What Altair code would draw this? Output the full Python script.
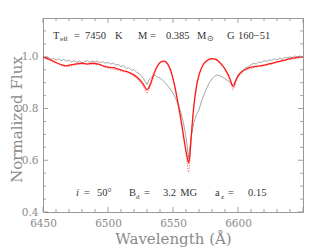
import altair as alt
import pandas as pd

# Observed spectrum (grey)
obs_wl = [6450, 6452, 6454, 6456, 6458, 6460, 6462, 6464, 6466, 6468, 6470, 6472, 6474, 6476, 6478,
          6480, 6482, 6484, 6486, 6488, 6490, 6492, 6494, 6496, 6498, 6500, 6502, 6504, 6506, 6508,
          6510, 6512, 6514, 6516, 6518, 6520, 6522, 6524, 6526, 6528, 6530, 6532, 6534, 6536, 6538,
          6540, 6542, 6544, 6546, 6548, 6550, 6552, 6554, 6556, 6558, 6560, 6562, 6564, 6566, 6568,
          6570, 6572, 6574, 6576, 6578, 6580, 6582, 6584, 6586, 6588, 6590, 6592, 6594, 6596, 6598,
          6600, 6602, 6604, 6606, 6608, 6610, 6612, 6614, 6616, 6618, 6620, 6622, 6624, 6626, 6628,
          6630, 6632, 6634, 6636, 6638, 6640, 6642, 6644, 6646, 6648]
obs_flux = [1.000, 0.995, 0.998, 0.990, 0.994, 0.988, 0.992, 0.985, 0.990, 0.983, 0.988, 0.980, 0.986, 0.978, 0.984,
            0.976, 0.982, 0.985, 0.979, 0.984, 0.980, 0.983, 0.977, 0.981, 0.975, 0.978, 0.972, 0.976, 0.968, 0.971,
            0.962, 0.966, 0.955, 0.958, 0.948, 0.950, 0.940, 0.935, 0.925, 0.910, 0.893, 0.915, 0.925, 0.930, 0.922,
            0.918, 0.910, 0.900, 0.888, 0.875, 0.860, 0.840, 0.815, 0.785, 0.745, 0.690, 0.610, 0.690, 0.745, 0.775,
            0.795, 0.830, 0.855, 0.880, 0.900, 0.915, 0.925, 0.930, 0.926, 0.922, 0.915, 0.908, 0.900, 0.892, 0.905,
            0.930, 0.942, 0.950, 0.958, 0.962, 0.970, 0.975, 0.972, 0.980, 0.978, 0.985, 0.982, 0.988, 0.986, 0.992,
            0.988, 0.995, 0.990, 0.998, 0.995, 1.000, 0.997, 1.003, 1.000, 1.005]

# Model spectrum (red line)
mod_wl = [6450, 6455, 6460, 6465, 6468, 6472, 6476, 6480, 6484, 6488, 6492, 6496, 6500, 6504, 6508,
          6512, 6516, 6520, 6524, 6527, 6529, 6530, 6531, 6533, 6535, 6537, 6539, 6541, 6543, 6545,
          6547, 6549, 6551, 6553, 6555, 6557, 6559, 6561, 6562, 6563, 6564, 6566, 6568, 6570, 6572,
          6574, 6577, 6580, 6583, 6586, 6589, 6592, 6594, 6595.5, 6596.5, 6598, 6600, 6603, 6606, 6610,
          6614, 6618, 6622, 6626, 6630, 6634, 6638, 6642, 6646, 6650]
mod_flux = [1.000, 0.990, 0.978, 0.968, 0.965, 0.970, 0.973, 0.975, 0.972, 0.975, 0.973, 0.965, 0.960, 0.958, 0.952,
            0.946, 0.940, 0.930, 0.913, 0.895, 0.878, 0.872, 0.878, 0.900, 0.930, 0.955, 0.972, 0.981, 0.983, 0.978,
            0.962, 0.935, 0.895, 0.845, 0.790, 0.730, 0.665, 0.610, 0.590, 0.620, 0.690, 0.810, 0.885, 0.930, 0.958,
            0.975, 0.988, 0.993, 0.990, 0.978, 0.960, 0.935, 0.912, 0.890, 0.885, 0.905, 0.925, 0.942, 0.952, 0.960,
            0.963, 0.966, 0.970, 0.975, 0.980, 0.985, 0.990, 0.995, 0.998, 1.000]

# Model variant (red dots)
dot_wl = [6450, 6460, 6468, 6480, 6492, 6500, 6510, 6520, 6524, 6527, 6529, 6530, 6531, 6533, 6535,
          6538, 6541, 6543, 6546, 6549, 6552, 6555, 6558, 6560, 6561, 6562, 6563, 6564, 6566, 6568,
          6571, 6575, 6580, 6585, 6590, 6593, 6595, 6596, 6597, 6599, 6602, 6606, 6612, 6620, 6630,
          6640, 6650]
dot_flux = [0.998, 0.975, 0.962, 0.972, 0.970, 0.956, 0.945, 0.925, 0.905, 0.885, 0.865, 0.858, 0.866, 0.893, 0.925,
            0.962, 0.979, 0.981, 0.968, 0.930, 0.865, 0.780, 0.690, 0.620, 0.585, 0.550, 0.600, 0.680, 0.795, 0.875,
            0.940, 0.980, 0.991, 0.980, 0.950, 0.918, 0.890, 0.872, 0.880, 0.910, 0.935, 0.948, 0.958, 0.965, 0.978,
            0.990, 0.998]

# Axis ticks
x_major = [6450, 6500, 6550, 6600, 6650]
x_minor = [6460, 6470, 6480, 6490, 6510, 6520, 6530, 6540, 6560, 6570, 6580, 6590,
           6610, 6620, 6630, 6640]
y_major = [0.4, 0.6, 0.8, 1.0]
y_minor = [0.45, 0.5, 0.55, 0.65, 0.7, 0.75, 0.85, 0.9, 0.95, 1.05, 1.1]
x_labels = [6450, 6500, 6550, 6600]

# Annotation pieces (text, wavelength, flux, font size)
ann_text = ["T", "eff", "=", "7450", "K", "M", "=", "0.385", "M", "⊙", "G", "160−51",
            "=", "50°", "B", "d", "=", "3.2", "MG", "a", "z", "=", "0.15"]
ann_wl = [6457.7, 6463.1, 6473.8, 6482.3, 6505.4, 6523.1, 6532.3, 6544.6, 6568.5, 6576.2, 6591.5, 6600.0,
          6481.5, 6491.5, 6516.2, 6521.5, 6527.7, 6542.3, 6555.5, 6582.3, 6586.9, 6592.3, 6607.7]
ann_flux = [1.069, 1.060, 1.069, 1.069, 1.069, 1.069, 1.069, 1.069, 1.069, 1.060, 1.069, 1.069,
            0.461, 0.461, 0.461, 0.452, 0.461, 0.461, 0.461, 0.461, 0.452, 0.461, 0.461]
ann_size = [10.5, 7, 10.5, 10.5, 10.5, 10.5, 10.5, 10.5, 10.5, 8, 10.5, 10.5,
            10.5, 10.5, 10.5, 7, 10.5, 10.5, 10.5, 10.5, 7, 10.5, 10.5]
ital_text = ["i"]
ital_wl = [6475.4]
ital_flux = [0.461]

W, H = 260, 194
xs = alt.Scale(domain=[6450, 6650], nice=False, zero=False)
ys = alt.Scale(domain=[0.4, 1.15], nice=False, zero=False)
GREY = "#8a8a8a"

obs = pd.DataFrame({"wl": obs_wl, "flux": obs_flux})
mod = pd.DataFrame({"wl": mod_wl, "flux": mod_flux})
dots = pd.DataFrame({"wl": dot_wl, "flux": dot_flux})
ann = pd.DataFrame({"t": ann_text, "wl": ann_wl, "flux": ann_flux, "s": ann_size})
ital = pd.DataFrame({"t": ital_text, "wl": ital_wl, "flux": ital_flux})

xaxis = alt.Axis(values=x_labels, format="d", ticks=False, domain=False, grid=False,
                 labelFont="DejaVu Serif", labelFontSize=10.5, labelColor=GREY, labelPadding=6,
                 title="Wavelength (Å)", titleFont="DejaVu Serif", titleFontSize=15,
                 titleFontWeight="normal", titleColor=GREY, titleY=31, titleBaseline="alphabetic",
                 labelFlush=False)
yaxis = alt.Axis(values=y_major, format=".1f", ticks=False, domain=False, grid=False,
                 labelFont="DejaVu Serif", labelFontSize=10.5, labelColor=GREY, labelPadding=5,
                 title="Normalized Flux", titleFont="DejaVu Serif", titleFontSize=15,
                 titleFontWeight="normal", titleColor=GREY, titleX=-22, titleY=101,
                 titleBaseline="alphabetic", labelFlush=False)

obs_line = alt.Chart(obs).mark_line(color="#808080", strokeWidth=0.7).encode(
    x=alt.X("wl:Q", scale=xs, axis=xaxis),
    y=alt.Y("flux:Q", scale=ys, axis=yaxis),
)
dot_line = alt.Chart(dots).mark_line(color="#ff6060", strokeWidth=1, strokeDash=[1, 1.5],
                                     interpolate="monotone").encode(
    x=alt.X("wl:Q", scale=xs), y=alt.Y("flux:Q", scale=ys))
mod_line = alt.Chart(mod).mark_line(color="#ff1a1a", strokeWidth=1.3, interpolate="monotone").encode(
    x=alt.X("wl:Q", scale=xs), y=alt.Y("flux:Q", scale=ys))

def xticks(vals, length):
    d = pd.DataFrame({"v": vals})
    b = alt.Chart(d).mark_rule(color=GREY, strokeWidth=0.8).encode(
        x=alt.X("v:Q", scale=xs), y=alt.value(H), y2=alt.value(H - length))
    t = alt.Chart(d).mark_rule(color=GREY, strokeWidth=0.8).encode(
        x=alt.X("v:Q", scale=xs), y=alt.value(0), y2=alt.value(length))
    return [b, t]

def yticks(vals, length):
    d = pd.DataFrame({"v": vals})
    l = alt.Chart(d).mark_rule(color=GREY, strokeWidth=0.8).encode(
        y=alt.Y("v:Q", scale=ys), x=alt.value(0), x2=alt.value(length))
    r = alt.Chart(d).mark_rule(color=GREY, strokeWidth=0.8).encode(
        y=alt.Y("v:Q", scale=ys), x=alt.value(W), x2=alt.value(W - length))
    return [l, r]

texts = alt.Chart(ann).mark_text(align="left", baseline="alphabetic", font="Liberation Serif",
                                 color="#333333").encode(
    x=alt.X("wl:Q", scale=xs), y=alt.Y("flux:Q", scale=ys), text="t:N",
    size=alt.Size("s:Q", scale=None, legend=None))
itext = alt.Chart(ital).mark_text(align="left", baseline="alphabetic", font="Liberation Serif",
                                  fontStyle="italic", fontSize=10.5, color="#333333").encode(
    x=alt.X("wl:Q", scale=xs), y=alt.Y("flux:Q", scale=ys), text="t:N")

layers = [obs_line, dot_line, mod_line, texts, itext]
layers += xticks(x_major, 5) + xticks(x_minor, 3) + yticks(y_major, 5) + yticks(y_minor, 3)

chart = alt.layer(*layers).properties(
    width=W, height=H,
    autosize=alt.AutoSizeParams(type="none"),
    padding={"left": 35, "top": 10, "right": 8, "bottom": 38},
).configure_view(stroke="#999999", strokeWidth=1)

chart.save("out.html", embed_options={"renderer": "svg", "actions": False})
